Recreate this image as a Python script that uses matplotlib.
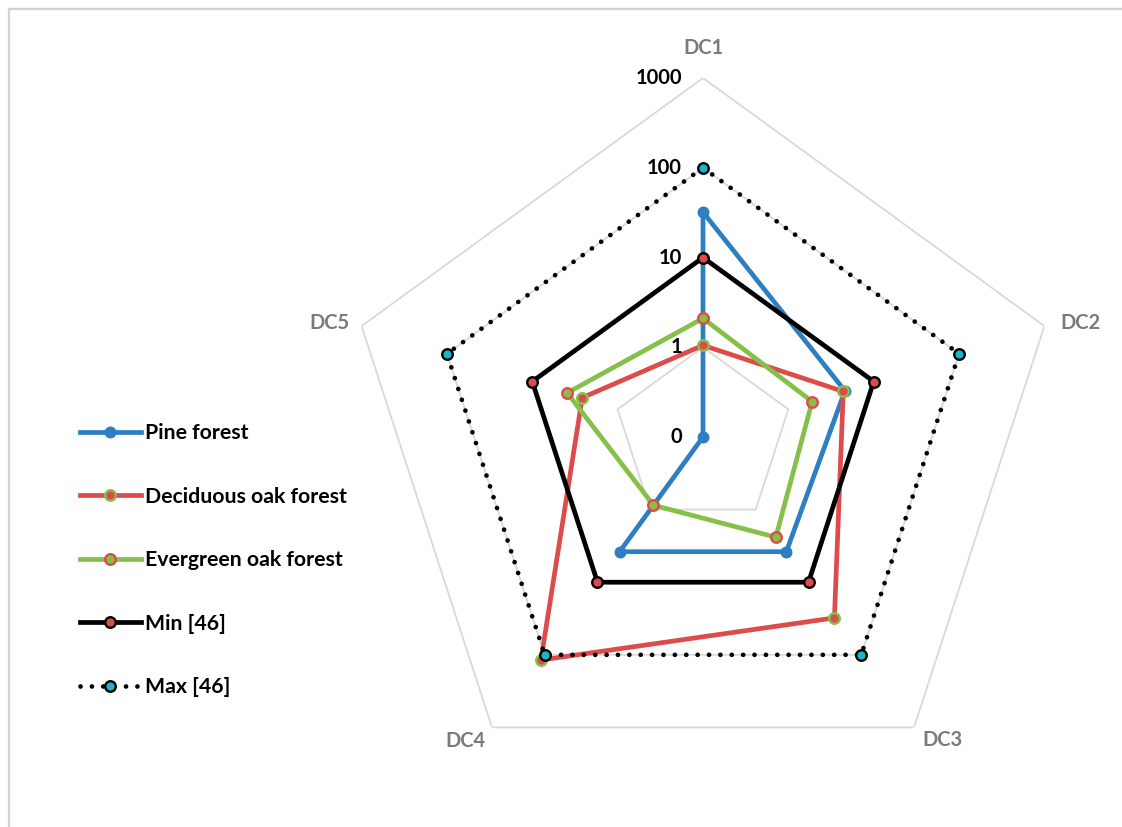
import numpy as np
import matplotlib
matplotlib.use("Agg")
import matplotlib.pyplot as plt
from matplotlib.lines import Line2D
from matplotlib.patches import Rectangle
from matplotlib.ticker import NullLocator

# ---- data -------------------------------------------------------------
categories = ["DC1", "DC2", "DC3", "DC4", "DC5"]
series_names = ["Pine forest", "Deciduous oak forest", "Evergreen oak forest",
                "Min [46]", "Max [46]"]
pine = [32, 4.6, 3.8, 3.8, 0.1]
deciduous = [1.05, 4.4, 31, 118, 2.6]
evergreen = [2.1, 1.9, 2.4, 0.87, 3.9]
min_46 = [10, 10, 10, 10, 10]
max_46 = [100, 100, 100, 100, 100]
tick_values = [0.1, 1, 10, 100, 1000]
tick_labels = ["0", "1", "10", "100", "1000"]

# ---- style ------------------------------------------------------------
FONT = "Lato"
BLUE = "#2E7EC2"
RED = "#DD4B4B"
GREEN = "#86BF4A"
CYAN = "#19B5CB"
GRID = "#D9D9D9"
LABEL_GRAY = "#7A7A7A"

W, H = 1122, 827
fig = plt.figure(figsize=(W / 100, H / 100), dpi=100)

cx, cy, R = 703, H - 437, 359
ax = fig.add_axes([(cx - R) / W, (cy - R) / H, 2 * R / W, 2 * R / H],
                  projection="polar")
ax.set_theta_zero_location("N")
ax.set_theta_direction(-1)
ax.set_rscale("log")
ax.set_rlim(tick_values[0], tick_values[-1])
ax.grid(False)
ax.set_xticks([])
ax.set_yticks([])
ax.yaxis.set_minor_locator(NullLocator())
ax.spines["polar"].set_visible(False)
ax.patch.set_visible(False)

n = len(categories)
angles = np.linspace(0, 2 * np.pi, n, endpoint=False)
closed = np.append(angles, angles[0])


def close(vals):
    return np.append(vals, vals[0])


# pentagon gridlines
for lv in tick_values[1:]:
    ax.plot(closed, [lv] * (n + 1), color=GRID, lw=1.3, zorder=1)

# value axis labels along DC1
for v, t in zip(tick_values, tick_labels):
    ax.annotate(t, xy=(0, v), xytext=(-21, 0), textcoords="offset pixels",
                ha="right", va="center", fontsize=14.5, fontweight="bold",
                family=FONT, color="black", zorder=5)

# category labels
cat_offsets = [(0, 30), (36, 3), (28, -13), (-27, -14), (-32, 3)]
for ang, name, off in zip(angles, categories, cat_offsets):
    ax.annotate(name, xy=(ang, tick_values[-1]), xytext=off,
                textcoords="offset pixels", ha="center", va="center",
                fontsize=14.5, fontweight="bold", family=FONT,
                color=LABEL_GRAY, annotation_clip=False)

LW = 3.4
dot_style = (0, (0.01, 2.4))
styles = [
    dict(color=BLUE, ls="-", mfc=BLUE, mec=BLUE, mew=1.0),
    dict(color=RED, ls="-", mfc=RED, mec=GREEN, mew=1.7),
    dict(color=GREEN, ls="-", mfc=GREEN, mec=RED, mew=1.7),
    dict(color="black", ls="-", mfc=RED, mec="black", mew=1.7),
    dict(color="black", ls=dot_style, mfc=CYAN, mec="black", mew=1.7),
]
data = [pine, deciduous, evergreen, min_46, max_46]

# lines first, markers on top
for vals, st in zip(data, styles):
    ax.plot(closed, close(vals), color=st["color"], ls=st["ls"], lw=LW,
            solid_joinstyle="miter", dash_capstyle="round", zorder=2)
for vals, st in zip(data, styles):
    ax.plot(angles, vals, ls="none", marker="o", ms=7.6, mfc=st["mfc"],
            mec=st["mec"], mew=st["mew"], zorder=3)

# legend
handles = []
for name, st in zip(series_names, styles):
    handles.append(Line2D([], [], color=st["color"], ls=st["ls"], lw=LW,
                          dash_capstyle="round", marker="o", ms=7.6,
                          mfc=st["mfc"], mec=st["mec"], mew=st["mew"]))
fig.legend(handles, series_names, loc="upper left",
           bbox_to_anchor=(80 / W, 1 - 423 / H), frameon=False,
           borderpad=0, borderaxespad=0, handlelength=2.85,
           handletextpad=0.2, labelspacing=2.05,
           prop=dict(family=FONT, weight="bold", size=15.3))

# chart area border
fig.patches.append(Rectangle((8.5 / W, -0.1), 1.2, 1.1 - 8.5 / H,
                             transform=fig.transFigure, fill=False,
                             edgecolor="#D0D0D0", lw=1.6))

fig.savefig("out.png", dpi=100, facecolor="white")
